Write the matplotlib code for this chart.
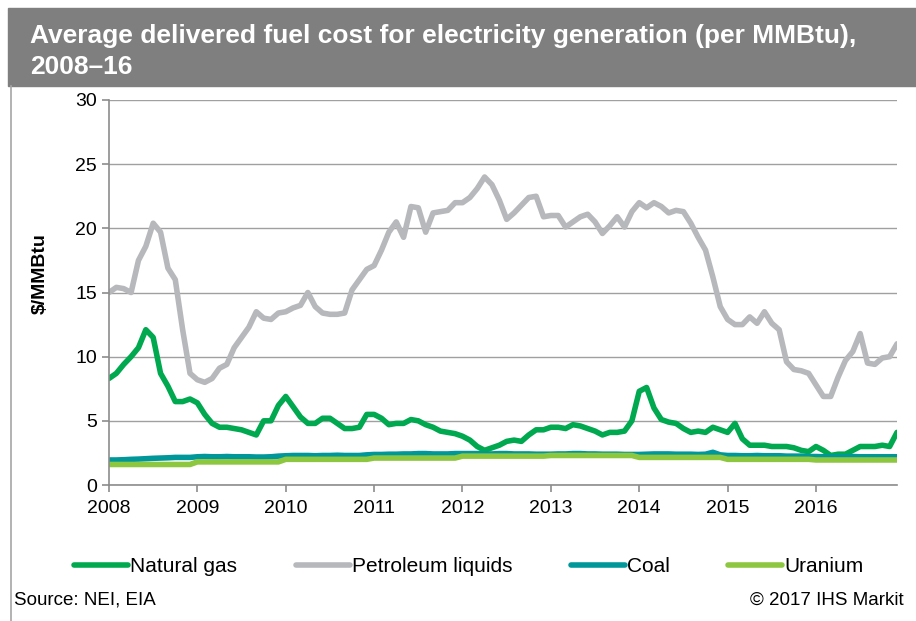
import numpy as np
import matplotlib
matplotlib.use("Agg")
import matplotlib.pyplot as plt
from matplotlib.patches import Rectangle
from matplotlib.lines import Line2D

plt.rcParams['font.family'] = ['Liberation Sans', 'DejaVu Sans']

# monthly values, Jan 2008 - Dec 2016 ($/MMBtu)
years = ['2008', '2009', '2010', '2011', '2012', '2013', '2014', '2015', '2016']

natural_gas = [
    8.3, 8.7, 9.4, 10.0, 10.7, 12.1, 11.5, 8.7, 7.7, 6.5, 6.5, 6.7,
    6.4, 5.5, 4.8, 4.5, 4.5, 4.4, 4.3, 4.1, 3.9, 5.0, 5.0, 6.2,
    6.9, 6.1, 5.3, 4.8, 4.8, 5.2, 5.2, 4.8, 4.4, 4.4, 4.5, 5.5,
    5.5, 5.2, 4.7, 4.8, 4.8, 5.1, 5.0, 4.7, 4.5, 4.2, 4.1, 4.0,
    3.8, 3.5, 3.0, 2.7, 2.9, 3.1, 3.4, 3.5, 3.4, 3.9, 4.3, 4.3,
    4.5, 4.5, 4.4, 4.7, 4.6, 4.4, 4.2, 3.9, 4.1, 4.1, 4.2, 5.0,
    7.3, 7.6, 6.0, 5.1, 4.9, 4.8, 4.4, 4.1, 4.2, 4.1, 4.5, 4.3,
    4.1, 4.8, 3.6, 3.1, 3.1, 3.1, 3.0, 3.0, 3.0, 2.9, 2.7, 2.6,
    3.0, 2.7, 2.3, 2.4, 2.4, 2.7, 3.0, 3.0, 3.0, 3.1, 3.0, 4.1,
]

petroleum = [
    15.0, 15.4, 15.3, 15.0, 17.5, 18.6, 20.4, 19.7, 16.9, 16.0, 12.1, 8.7,
    8.2, 8.0, 8.3, 9.1, 9.4, 10.7, 11.5, 12.3, 13.5, 13.0, 12.9, 13.4,
    13.5, 13.8, 14.0, 15.0, 13.9, 13.4, 13.3, 13.3, 13.4, 15.2, 16.0, 16.8,
    17.1, 18.3, 19.7, 20.5, 19.3, 21.7, 21.6, 19.7, 21.2, 21.3, 21.4, 22.0,
    22.0, 22.4, 23.1, 24.0, 23.4, 22.2, 20.7, 21.2, 21.8, 22.4, 22.5, 20.9,
    21.0, 21.0, 20.1, 20.5, 20.9, 21.1, 20.5, 19.6, 20.2, 20.9, 20.1, 21.3,
    22.0, 21.6, 22.0, 21.7, 21.2, 21.4, 21.3, 20.4, 19.3, 18.3, 16.2, 13.9,
    12.9, 12.5, 12.5, 13.1, 12.6, 13.5, 12.6, 12.1, 9.6, 9.0, 8.9, 8.7,
    7.8, 6.9, 6.9, 8.4, 9.7, 10.4, 11.8, 9.5, 9.4, 9.9, 10.0, 11.0,
]

coal = [
    1.95, 1.95, 1.97, 2.0, 2.02, 2.05, 2.08, 2.1, 2.12, 2.15, 2.15, 2.15,
    2.2, 2.22, 2.2, 2.2, 2.22, 2.2, 2.2, 2.2, 2.18, 2.18, 2.2, 2.25,
    2.28, 2.3, 2.3, 2.3, 2.28, 2.3, 2.3, 2.32, 2.3, 2.3, 2.3, 2.35,
    2.38, 2.38, 2.4, 2.4, 2.42, 2.42, 2.45, 2.45, 2.42, 2.42, 2.42, 2.45,
    2.45, 2.45, 2.45, 2.42, 2.42, 2.45, 2.45, 2.42, 2.42, 2.42, 2.4, 2.4,
    2.4, 2.42, 2.42, 2.45, 2.45, 2.42, 2.42, 2.4, 2.4, 2.4, 2.38, 2.38,
    2.38, 2.4, 2.42, 2.42, 2.42, 2.4, 2.4, 2.4, 2.38, 2.4, 2.55, 2.35,
    2.3, 2.3, 2.28, 2.28, 2.3, 2.28, 2.28, 2.28, 2.25, 2.25, 2.25, 2.22,
    2.22, 2.2, 2.2, 2.2, 2.2, 2.22, 2.2, 2.2, 2.2, 2.2, 2.2, 2.2,
]

uranium = [
    1.6, 1.6, 1.6, 1.6, 1.6, 1.6, 1.6, 1.6, 1.6, 1.6, 1.6, 1.6,
    1.8, 1.8, 1.8, 1.8, 1.8, 1.8, 1.8, 1.8, 1.8, 1.8, 1.8, 1.8,
    2.0, 2.0, 2.0, 2.0, 2.0, 2.0, 2.0, 2.0, 2.0, 2.0, 2.0, 2.0,
    2.1, 2.1, 2.1, 2.1, 2.1, 2.1, 2.1, 2.1, 2.1, 2.1, 2.1, 2.1,
    2.25, 2.25, 2.25, 2.25, 2.25, 2.25, 2.25, 2.25, 2.25, 2.25, 2.25, 2.25,
    2.3, 2.3, 2.3, 2.3, 2.3, 2.3, 2.3, 2.3, 2.3, 2.3, 2.3, 2.3,
    2.15, 2.15, 2.15, 2.15, 2.15, 2.15, 2.15, 2.15, 2.15, 2.15, 2.15, 2.15,
    2.0, 2.0, 2.0, 2.0, 2.0, 2.0, 2.0, 2.0, 2.0, 2.0, 2.0, 2.0,
    1.95, 1.95, 1.95, 1.95, 1.95, 1.95, 1.95, 1.95, 1.95, 1.95, 1.95, 1.95,
]

series = [
    ('Natural gas', natural_gas, '#00a94f'),
    ('Petroleum liquids', petroleum, '#b7b8bb'),
    ('Coal', coal, '#00979b'),
    ('Uranium', uranium, '#8dc63f'),
]

W, H = 916, 621
fig = plt.figure(figsize=(W / 100, H / 100), dpi=100)

# title banner
fig.patches.append(Rectangle((8 / W, 1 - 86 / H), 1 - 8 / W, 78 / H,
                             transform=fig.transFigure, color='#7f7f7f', zorder=0))
fig.text(30 / W, 1 - 36 / H, 'Average delivered fuel cost for electricity generation (per MMBtu),',
         color='white', fontsize=19, fontweight='bold', va='center', ha='left')
fig.text(30 / W, 1 - 67 / H, '2008–16', color='white', fontsize=19,
         fontweight='bold', va='center', ha='left')
# left frame line
fig.lines.append(Line2D([11 / W, 11 / W], [0, 1 - 86 / H], transform=fig.transFigure,
                        color='#a6a6a6', lw=1.2))

ax = fig.add_axes([109 / W, 1 - 485 / H, 788 / W, 385 / H])
x = np.arange(len(natural_gas))
for name, vals, col in series:
    ax.plot(x, vals, color=col, lw=4, label=name, solid_capstyle='round')

ax.set_xlim(0, len(natural_gas) - 1)
ax.set_ylim(0, 30)
ax.set_yticks(range(0, 31, 5))
ax.set_xticks(np.arange(len(years)) * 12)
ax.set_xticklabels(years)
ax.grid(axis='y', color='#a0a0a0', lw=1)
ax.set_axisbelow(True)
for s in ['top', 'right']:
    ax.spines[s].set_visible(False)
for s in ['left', 'bottom']:
    ax.spines[s].set_color('#8c8c8c')
    ax.spines[s].set_linewidth(1.2)
ax.tick_params(axis='both', colors='#8c8c8c', labelcolor='black', labelsize=14,
               length=5, width=1.2, direction='out')
ax.tick_params(axis='x', pad=6)

fig.text(40 / W, 1 - 274 / H, '$/MMBtu', rotation=90, fontsize=14, fontweight='bold',
         ha='center', va='center')

fig.legend(loc='center', bbox_to_anchor=(469 / W, 1 - 567 / H), ncol=4, frameon=False,
           fontsize=15, handlelength=2.6, handletextpad=0.1, columnspacing=2.8)

fig.text(14 / W, 1 - 600 / H, 'Source: NEI, EIA', fontsize=13.5, ha='left', va='center')
fig.text(904 / W, 1 - 600 / H, '© 2017 IHS Markit', fontsize=13.5, ha='right', va='center')

fig.savefig('out.png', dpi=100)
